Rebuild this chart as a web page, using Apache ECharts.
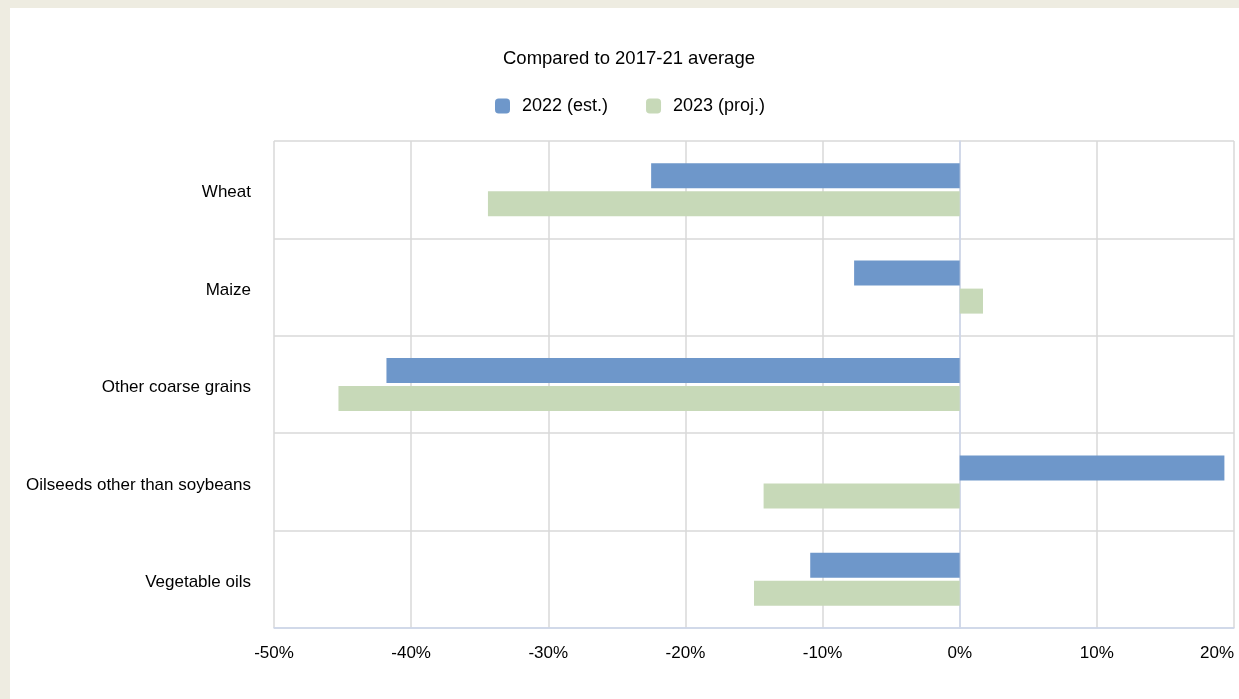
<!DOCTYPE html>
<html>
<head>
<meta charset="utf-8">
<script src="https://cdn.jsdelivr.net/npm/echarts@6/dist/echarts.min.js"></script>
<style>
  html, body { margin: 0; padding: 0; background: #EEECE1; width: 1239px; height: 699px; overflow: hidden; }
  #chart { position: absolute; left: 10px; top: 8px; width: 1229px; height: 691px; background: #ffffff; }
</style>
</head>
<body>
<div id="chart"></div>
<script>
const categories = ["Wheat", "Maize", "Other coarse grains", "Oilseeds other than soybeans", "Vegetable oils"];
const series2022 = [-22.5, -7.7, -41.8, 19.3, -10.9];
const series2023 = [-34.4, 1.7, -45.3, -14.3, -15.0];
const seriesNames = ["2022 (est.)", "2023 (proj.)"];
const titleText = "Compared to 2017-21 average";

const chart = echarts.init(document.getElementById('chart'), null, { renderer: 'canvas', width: 1229, height: 691 });
const font = 'Liberation Sans, Arial, sans-serif';
chart.setOption({
  animation: false,
  title: {
    text: titleText,
    left: 488, top: 36,
    textStyle: { fontFamily: font, fontSize: 18.5, fontWeight: 'normal', color: '#000' }
  },
  legend: {
    data: seriesNames,
    left: 480, top: 84,
    icon: 'roundRect',
    itemWidth: 15, itemHeight: 15, itemGap: 38,
    textStyle: { fontFamily: font, fontSize: 18, color: '#000', padding: [0, 0, 0, 7] }
  },
  grid: { left: 264, right: 5, top: 133, bottom: 71, outerBoundsMode: 'none', containLabel: false },
  xAxis: {
    type: 'value', min: -50, max: 20, interval: 10,
    axisLabel: { formatter: '{value}%', fontFamily: font, fontSize: 17, color: '#000', margin: 17, alignMaxLabel: 'right' },
    axisLine: { show: true, lineStyle: { color: '#ccd6eb', width: 1.5 } },
    axisTick: { show: false },
    splitLine: { show: true, lineStyle: { color: '#d9d9d9', width: 1.5 } }
  },
  yAxis: {
    type: 'category', data: categories, inverse: true,
    axisLabel: { fontFamily: font, fontSize: 17, color: '#000', margin: 23, verticalAlign: 'top', lineHeight: 6 },
    axisLine: { show: true, lineStyle: { color: '#ccd6eb', width: 1.5 } },
    axisTick: { show: false },
    splitLine: { show: true, lineStyle: { color: '#d9d9d9', width: 1.5 } }
  },
  series: [
    { name: seriesNames[0], type: 'bar', data: series2022, barWidth: 25, barGap: '12%', itemStyle: { color: '#6E97CA' } },
    { name: seriesNames[1], type: 'bar', data: series2023, barWidth: 25, barGap: '12%', itemStyle: { color: '#C7D9B8' } }
  ]
});
</script>
</body>
</html>
